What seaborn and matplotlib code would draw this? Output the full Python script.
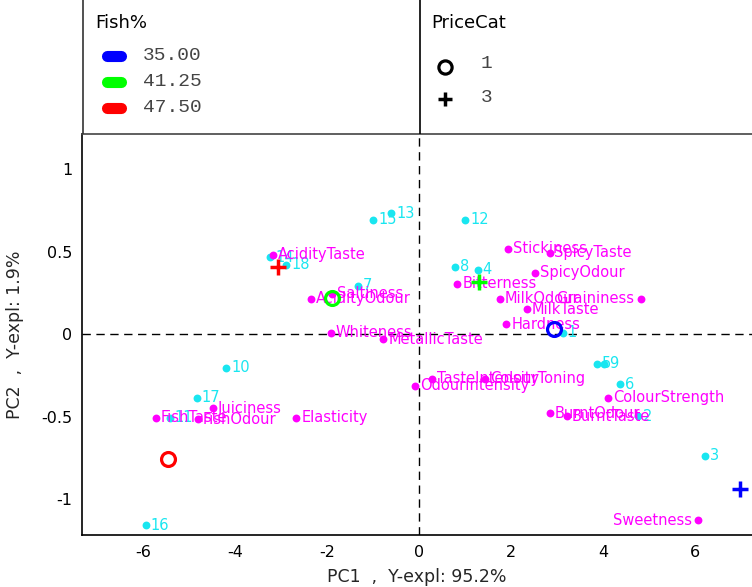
import matplotlib
matplotlib.use("Agg")
import matplotlib.pyplot as plt
import seaborn as sns
import pandas as pd

# ---------------- data ----------------
sample_ids = [str(i) for i in range(1, 19)]
score_pc1 = [3.12, 4.76, 6.20, 1.27, 3.87, 4.37, -1.34, 0.77, 4.01,
             -4.19, -5.42, 1.00, -0.61, -3.24, -1.00, -5.95, -4.84, -2.89]
score_pc2 = [0.010, -0.497, -0.737, 0.392, -0.178, -0.303, 0.293, 0.408, -0.180,
             -0.204, -0.507, 0.695, 0.733, 0.468, 0.695, -1.158, -0.386, 0.420]

loading_names = ["AcidityTaste", "AcidityOdour", "Saltiness", "Whiteness", "MetallicTaste",
                 "Stickiness", "SpicyTaste", "SpicyOdour", "Bitterness", "MilkOdour",
                 "Graininess", "MilkTaste", "Hardness", "TasteIntensity", "ColourToning",
                 "OdourIntensity", "ColourStrength", "BurntOdour", "BurntTaste", "Juiciness",
                 "FishTaste", "FishOdour", "Elasticity", "Sweetness"]
loading_pc1 = [-3.18, -2.35, -1.89, -1.92, -0.78,
               1.92, 2.83, 2.51, 0.83, 1.75,
               4.81, 2.34, 1.89, 0.275, 1.43,
               -0.087, 4.11, 2.83, 3.20, -4.48,
               -5.73, -4.81, -2.67, 6.06]
loading_pc2 = [0.483, 0.216, 0.246, 0.008, -0.030,
               0.519, 0.493, 0.372, 0.307, 0.216,
               0.216, 0.152, 0.061, -0.269, -0.269,
               -0.313, -0.386, -0.481, -0.497, -0.450,
               -0.507, -0.517, -0.507, -1.130]
left_placed = ["Graininess", "Sweetness"]

fish_levels = ["35.00", "41.25", "47.50"]
fish_colors = ["#0000FF", "#00FF00", "#FF0000"]
price_levels = ["1", "3"]
group_fish = ["35.00", "35.00", "41.25", "41.25", "47.50", "47.50"]
group_price = ["1", "3", "1", "3", "1", "3"]
group_pc1 = [2.93, 6.96, -1.90, 1.29, -5.46, -3.06]
group_pc2 = [0.030, -0.940, 0.222, 0.317, -0.758, 0.408]

x_ticks = [-6, -4, -2, 0, 2, 4, 6]
x_ticklabels = ["-6", "-4", "-2", "0", "2", "4", "6"]
y_ticks = [-1, -0.5, 0, 0.5, 1]
y_ticklabels = ["-1", "-0.5", "0", "0.5", "1"]

xlabel = "PC1  ,  Y-expl: 95.2%"
ylabel = "PC2  ,  Y-expl: 1.9%"

CYAN = "#19E6F0"
MAGENTA = "#FF00FF"

# ---------------- figure ----------------
sns.set_style("white")
plt.rcParams["font.family"] = ["DejaVu Sans"]

W, H = 752, 587
fig = plt.figure(figsize=(W / 100, H / 100), dpi=100)
ax = fig.add_axes([82 / W, 1 - 535 / H, (W - 82) / W, (535 - 134) / H])

scores = pd.DataFrame({"id": sample_ids, "PC1": score_pc1, "PC2": score_pc2})
loads = pd.DataFrame({"name": loading_names, "PC1": loading_pc1, "PC2": loading_pc2})
groups = pd.DataFrame({"fish": group_fish, "price": group_price,
                       "PC1": group_pc1, "PC2": group_pc2})

ax.axhline(0, color="black", lw=1, ls=(0, (6, 4)), zorder=1)
ax.axvline(0, color="black", lw=1, ls=(0, (6, 4)), zorder=1)

sns.scatterplot(data=scores, x="PC1", y="PC2", color=CYAN, s=32, linewidth=0,
                ax=ax, zorder=3, legend=False)
for _, r in scores.iterrows():
    ax.annotate(r["id"], (r["PC1"], r["PC2"]), xytext=(3.5, 0), textcoords="offset points",
                ha="left", va="center", color=CYAN, fontsize=10.5, zorder=3)

sns.scatterplot(data=loads, x="PC1", y="PC2", color=MAGENTA, s=32, linewidth=0,
                ax=ax, zorder=4, legend=False)
for _, r in loads.iterrows():
    left = r["name"] in left_placed
    ax.annotate(r["name"], (r["PC1"], r["PC2"]), xytext=(-4.5 if left else 3.5, 0),
                textcoords="offset points", ha="right" if left else "left",
                va="center", color=MAGENTA, fontsize=10.5, zorder=4)

cmap = dict(zip(fish_levels, fish_colors))
for _, r in groups.iterrows():
    c = cmap[r["fish"]]
    if r["price"] == "1":
        ax.plot(r["PC1"], r["PC2"], "o", mfc="none", mec=c, mew=2.3, ms=10, zorder=6)
    else:
        ax.plot(r["PC1"], r["PC2"], "+", color=c, mew=2.5, ms=11, zorder=6)

ax.set_xlim(-7.33, 7.23)
ax.set_ylim(-1.218, 1.214)
ax.set_xticks(x_ticks)
ax.set_xticklabels(x_ticklabels)
ax.set_yticks(y_ticks)
ax.set_yticklabels(y_ticklabels)
ax.tick_params(direction="in", length=5, width=1, labelsize=11.5, color="black",
               labelcolor="black", pad=7)
ax.set_xlabel(xlabel, fontsize=12.5, labelpad=6)
ax.set_ylabel(ylabel, fontsize=12.5, labelpad=12)
for s in ["left", "bottom"]:
    ax.spines[s].set_color("black")
    ax.spines[s].set_linewidth(1.2)
ax.spines["top"].set_color("#444444")
ax.spines["top"].set_linewidth(1.2)
ax.spines["right"].set_visible(False)

# ---------------- legend panels ----------------
lax = fig.add_axes([0, 1 - 134 / H, 1, 134 / H])
lax.set_xlim(0, W)
lax.set_ylim(134, 0)
lax.axis("off")
lax.plot([82.5, 82.5], [0, 134], color="#333333", lw=1.2)
lax.plot([420, 420], [0, 134], color="black", lw=1.2)

lax.text(95, 23, "Fish%", fontsize=13, ha="left", va="center", color="black")
for i, (lvl, col) in enumerate(zip(fish_levels, fish_colors)):
    yy = 56 + 26 * i
    lax.plot([107, 121], [yy, yy], color=col, lw=8, solid_capstyle="round")
    lax.text(143, yy - 1, lvl, fontsize=14, family="Liberation Mono", color="#444444",
             ha="left", va="center")

lax.text(431, 23, "PriceCat", fontsize=13, ha="left", va="center", color="black")
lax.plot(445, 67, "o", mfc="none", mec="black", mew=2.3, ms=9.5)
lax.plot(445, 99, "+", color="black", mew=2.5, ms=10)
lax.text(481, 64, price_levels[0], fontsize=14, family="Liberation Mono", color="#444444",
         ha="left", va="center")
lax.text(481, 98, price_levels[1], fontsize=14, family="Liberation Mono", color="#444444",
         ha="left", va="center")

fig.savefig("out.png", dpi=100)
